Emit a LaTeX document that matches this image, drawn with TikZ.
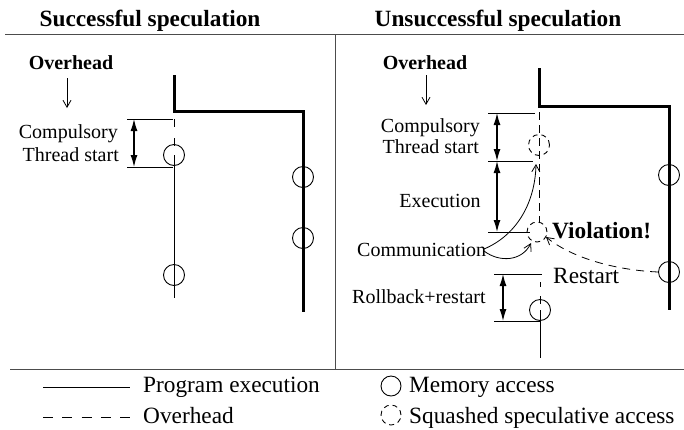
\documentclass[tikz,border=0pt]{standalone}
\usepackage{fontspec}
\setmainfont{Liberation Serif}
\usetikzlibrary{arrows.meta}
\begin{document}
\begin{tikzpicture}[x=1pt,y=-1pt,
  lbl/.style={inner sep=0pt, font=\fontsize{20}{24}\selectfont},
  big/.style={inner sep=0pt, font=\fontsize{23.3}{28}\selectfont},
  bigb/.style={inner sep=0pt, font=\fontsize{23.3}{28}\selectfont\bfseries},
  ohd/.style={inner sep=0pt, font=\fontsize{20}{24}\selectfont\bfseries},
  access/.style={circle, draw, line width=0.9pt, minimum size=21pt, inner sep=0pt},
  squashed/.style={access, dash pattern=on 5pt off 4pt},
  thickthread/.style={line width=3pt},
  thinthread/.style={line width=1pt},
  overhead/.style={line width=1pt, dash pattern=on 8pt off 5pt},
  dimline/.style={line width=0.9pt},
  dimarrow/.style={line width=1.2pt, {Latex[length=12pt,width=7pt]}-{Latex[length=12pt,width=7pt]}},
  note/.style={line width=0.8pt, -{Straight Barb[length=7pt,width=8pt]}},
  frame/.style={line width=1pt, black!70}]

\useasboundingbox (0,0) rectangle (684,429);

% panel frame
\coordinate (tl) at (5,34);   \coordinate (tr) at (684,34);
\coordinate (bl) at (10,369); \coordinate (br) at (684,369);
\coordinate (mt) at (335,34); \coordinate (mb) at (335,369);
\draw[frame] (tl) -- (tr);
\draw[frame] (bl) -- (br);
\draw[frame] (mt) -- (mb);

% titles
\node[bigb, anchor=base] (t1) at (150,26) {Successful speculation};
\node[bigb, anchor=base] (t2) at (498,26) {Unsuccessful speculation};

%% ---------- successful speculation ----------
\node[ohd, anchor=base] (oh1) at (71,69) {Overhead};
\coordinate (oh1a) at (67,78); \coordinate (oh1b) at (67,108);
\draw[note] (oh1a) -- (oh1b);

% older thread
\coordinate (p0) at (174,75);  \coordinate (p1) at (174,111);
\coordinate (p2) at (303,111); \coordinate (p3) at (303,312);
\draw[thickthread] (p0) -- (p1) -- (p2) -- (p3);
\node[access] (b1) at (303,177) {};
\node[access] (b2) at (303,238) {};

% speculative thread
\node[access] (a1) at (174,155) {};
\node[access] (a2) at (174,275) {};
\coordinate (s0) at (174,119); \coordinate (s1) at (174,298);
\draw[thinthread, dash pattern=on 8pt off 11pt] (s0) -- (a1.center);
\draw[thinthread] (a1.center) -- (s1);

% compulsory overhead span
\coordinate (d1l) at (127,119); \coordinate (d1r) at (173,119);
\coordinate (d2l) at (127,167); \coordinate (d2r) at (173,167);
\draw[dimline] (d1l) -- (d1r);
\draw[dimline] (d2l) -- (d2r);
\coordinate (da1) at (134,119); \coordinate (da2) at (134,167);
\draw[dimarrow] (da1) -- (da2);
\node[lbl, anchor=base east] (cmp1) at (118,138) {Compulsory};
\node[lbl, anchor=base east] (ts1) at (119,161) {Thread start};

%% ---------- unsuccessful speculation ----------
\node[ohd, anchor=base] (oh2) at (425,69) {Overhead};
\coordinate (oh2a) at (426,75); \coordinate (oh2b) at (426,105);
\draw[note] (oh2a) -- (oh2b);

% older thread
\coordinate (q0) at (539,68);  \coordinate (q1) at (539,106);
\coordinate (q2) at (669,106); \coordinate (q3) at (669,310);
\draw[thickthread] (q0) -- (q1) -- (q2) -- (q3);
\node[access] (c1) at (669,175) {};
\node[access] (c2) at (669,272) {};

% squashed speculative thread
\coordinate (u0) at (539,112); \coordinate (u1) at (539,222);
\draw[overhead] (u0) -- (u1);
\node[squashed] (x1) at (539,145) {};
\node[squashed, minimum size=20pt] (x2) at (537,232) {};

% spans
\coordinate (e1l) at (488,113); \coordinate (e1r) at (535,113);
\coordinate (e2l) at (488,161); \coordinate (e2r) at (533,161);
\coordinate (e3l) at (488,232); \coordinate (e3r) at (530,232);
\draw[dimline] (e1l) -- (e1r);
\draw[dimline] (e2l) -- (e2r);
\draw[dimline] (e3l) -- (e3r);
\coordinate (ea1) at (497,113); \coordinate (ea2) at (497,161);
\coordinate (ea3) at (497,232);
\draw[dimarrow] (ea1) -- (ea2);
\draw[dimarrow] (ea2) -- (ea3);

\node[lbl, anchor=base east] (cmp2) at (480,132) {Compulsory};
\node[lbl, anchor=base east] (ts2) at (479,153) {Thread start};
\node[lbl, anchor=base] (ex) at (440,207) {Execution};
\node[bigb, anchor=base west] (vio) at (552,238) {Violation!};
\node[lbl, anchor=base west] (comm) at (357,256) {Communication};

% communication arrows
\coordinate (cm1) at (484,249); \coordinate (cm2) at (484,251);
\coordinate (ct1) at (536,164); \coordinate (ct2) at (531,243);
\draw[note] (cm1) .. controls (515,236) and (535,205) .. (ct1);
\draw[note] (cm2) .. controls (500,263) and (522,261) .. (ct2);

% restart
\coordinate (rs0) at (658,272); \coordinate (rs1) at (546,237);
\draw[note, dash pattern=on 8pt off 6pt] (rs0) .. controls (615,270) and (572,258) .. (rs1);
\node[big, anchor=base west] (rst) at (553,283) {Restart};

% rollback and restart
\node[access] (r1) at (540,310) {};
\coordinate (w0) at (540,274); \coordinate (w1) at (540,358);
\draw[thinthread, dash pattern=on 0pt off 8pt on 5pt off 9pt on 8pt off 20pt] (w0) -- (r1.center);
\draw[thinthread] (r1.center) -- (w1);
\coordinate (f1l) at (494,274); \coordinate (f1r) at (542,274);
\coordinate (f2l) at (494,321); \coordinate (f2r) at (540,321);
\draw[dimline] (f1l) -- (f1r);
\draw[dimline] (f2l) -- (f2r);
\coordinate (fa1) at (503,274); \coordinate (fa2) at (503,321);
\draw[dimarrow] (fa1) -- (fa2);
\node[lbl, anchor=base west] (rb) at (352,303) {Rollback+restart};

%% ---------- legend ----------
\coordinate (l1a) at (43,387); \coordinate (l1b) at (130,387);
\draw[thinthread] (l1a) -- (l1b);
\node[big, anchor=base west] (lg1) at (143,392) {Program execution};
\coordinate (l2a) at (43,417); \coordinate (l2b) at (130,417);
\draw[thinthread, dash pattern=on 10pt off 9.25pt] (l2a) -- (l2b);
\node[big, anchor=base west] (lg2) at (143,423) {Overhead};
\node[access, minimum size=20pt] (lc1) at (391,386) {};
\node[big, anchor=base west] (lg3) at (409,392) {Memory access};
\node[squashed, minimum size=20pt] (lc2) at (391,415) {};
\node[big, anchor=base west] (lg4) at (409,423) {Squashed speculative access};

\end{tikzpicture}
\end{document}
